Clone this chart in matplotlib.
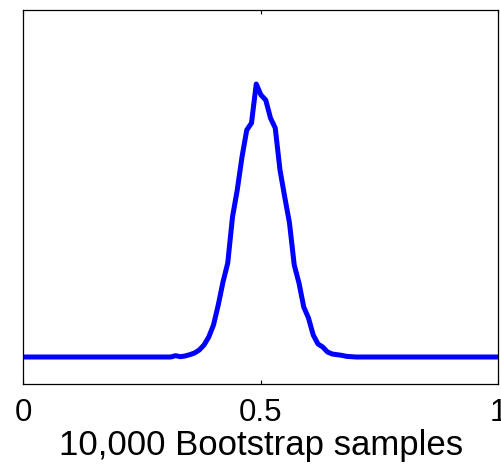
import numpy as np
import matplotlib
matplotlib.use("Agg")
import matplotlib.pyplot as plt

# Bootstrap distribution: counts per 0.01-wide bin of the resampled statistic
bin_centers = np.round(np.arange(0.0, 1.0001, 0.01), 2)
nonzero_bins = [0.32, 0.33, 0.34, 0.35, 0.36, 0.37, 0.38, 0.39, 0.40, 0.41,
                0.42, 0.43, 0.44, 0.45, 0.46, 0.47, 0.48, 0.49, 0.50, 0.51,
                0.52, 0.53, 0.54, 0.55, 0.56, 0.57, 0.58, 0.59, 0.60, 0.61,
                0.62, 0.63, 0.64, 0.65, 0.66, 0.67, 0.68, 0.69]
nonzero_counts = [4, 1, 3, 7, 12, 21, 36, 60, 96, 156,
                  225, 282, 420, 501, 600, 681, 702, 819, 786, 771,
                  717, 687, 561, 480, 402, 276, 222, 150, 117, 66,
                  39, 30, 15, 9, 7, 5, 2, 1]

xticks = [0, 0.5, 1]
xtick_labels = ["0", "0.5", "1"]
xlabel = "10,000 Bootstrap samples"

counts = np.zeros(len(bin_centers))
lookup = {round(b, 2): c for b, c in zip(nonzero_bins, nonzero_counts)}
for i, b in enumerate(bin_centers):
    counts[i] = lookup.get(round(float(b), 2), 0)

plt.rcParams["font.family"] = ["Liberation Sans", "DejaVu Sans"]

fig = plt.figure(figsize=(5.02, 4.71), dpi=100)
ax = fig.add_axes([0.0468, 0.1847, 0.9462, 0.794])

ax.plot(bin_centers, counts, color=(0, 0, 1), linewidth=3.6, solid_joinstyle="round")

ax.set_xlim(0, 1)
ax.set_ylim(-81, 1041)
ax.set_xticks(xticks)
ax.set_xticklabels(xtick_labels)
ax.set_yticks([])
ax.tick_params(axis="x", direction="in", length=3, width=0.8, top=True,
               labelsize=22.5, pad=10)
for sp in ax.spines.values():
    sp.set_linewidth(0.9)
ax.set_xlabel(xlabel, fontsize=25, labelpad=1)

fig.savefig("out.png", dpi=100)
